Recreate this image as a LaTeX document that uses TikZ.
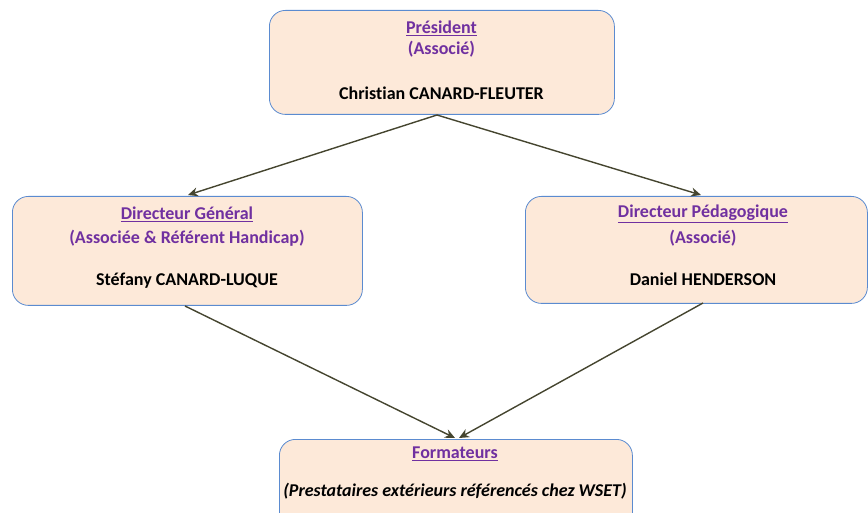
\documentclass[tikz,border=0pt]{standalone}
\usepackage{fontspec}
\setmainfont{Carlito}[Ligatures=NoCommon]
\usetikzlibrary{arrows.meta}
\definecolor{boxfill}{HTML}{FDE9D9}
\definecolor{boxline}{HTML}{5B8BD0}
\definecolor{titlecol}{HTML}{7030A0}
\definecolor{arrowcol}{HTML}{45452F}
\tikzset{
  orgbox/.style={draw=boxline, line width=0.8pt, fill=boxfill, rounded corners=16pt, inner sep=0pt},
  ttl/.style={font=\fontsize{18}{21}\selectfont\bfseries, text=titlecol, inner sep=0pt},
  nm/.style={font=\fontsize{18}{21}\selectfont\bfseries, text=black, inner sep=0pt},
  conn/.style={draw=arrowcol, line width=1.4pt, -{Stealth[length=10pt,width=9pt]}}
}
\begin{document}
\begin{tikzpicture}[x=1pt,y=1pt]
\useasboundingbox (0,0) rectangle (868,-513);
% boxes
\node[orgbox, minimum width=345pt, minimum height=104pt, anchor=north west] (pres) at (269,-10) {};
\node[orgbox, minimum width=350pt, minimum height=109pt, anchor=north west] (dg) at (12,-196) {};
\node[orgbox, minimum width=342pt, minimum height=107pt, anchor=north west] (dp) at (525,-196) {};
\node[orgbox, minimum width=353pt, minimum height=100pt, anchor=north west] (form) at (279,-439) {};
% texts
\node[ttl] (presT) at (441.5,-28) {\underline{Président}};
\node[ttl] (presA) at (441.5,-49) {(Associé)};
\node[nm] (presN) at (441.5,-93) {Christian CANARD-FLEUTER};
\node[ttl] (dgT) at (187,-214) {\underline{Directeur Général}};
\node[ttl] (dgA) at (187,-238) {(Associée \& Référent Handicap)};
\node[nm] (dgN) at (187,-281) {Stéfany CANARD-LUQUE};
\node[ttl] (dpT) at (703,-214) {\underline{Directeur Pédagogique}};
\node[ttl] (dpA) at (703,-238) {(Associé)};
\node[nm] (dpN) at (703,-279) {Daniel HENDERSON};
\node[ttl] (formT) at (455,-454) {\underline{Formateurs}};
\node[nm] (formS) at (455,-491) {\itshape (Prestataires extérieurs référencés chez WSET)};
% connector anchors
\coordinate (p1) at (437,-115);
\coordinate (dgTop) at (188,-195);
\coordinate (dpTop) at (701,-195);
\coordinate (dgBot) at (185,-306);
\coordinate (dpBot) at (703,-303);
\coordinate (fTop1) at (455,-438);
\coordinate (fTop2) at (459,-438);
\draw[conn] (p1) -- (dgTop);
\draw[conn] (p1) -- (dpTop);
\draw[conn] (dgBot) -- (fTop1);
\draw[conn] (dpBot) -- (fTop2);
\end{tikzpicture}
\end{document}
